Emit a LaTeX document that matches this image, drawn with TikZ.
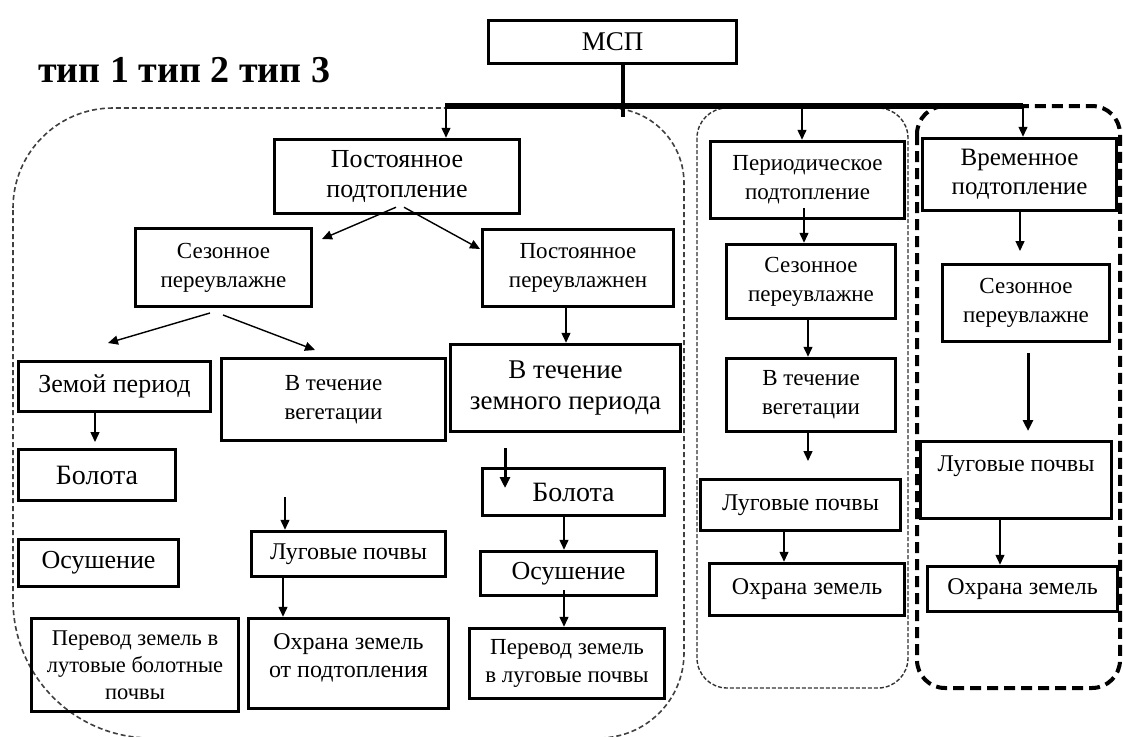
\documentclass[tikz,border=0pt]{standalone}
\usepackage{fontspec}
\setmainfont{Liberation Serif}
\usetikzlibrary{arrows.meta,calc}
\begin{document}
\begin{tikzpicture}[x=1pt,y=-1pt,
  box/.style={draw, line width=3.5pt, inner sep=0pt, align=center},
  txt/.style={inner sep=0pt, align=center},
  fA/.style={font=\fontsize{26}{30}\selectfont},
  fB/.style={font=\fontsize{23}{29}\selectfont},
  fC/.style={font=\fontsize{24}{28}\selectfont},
  fD/.style={font=\fontsize{22.5}{27}\selectfont},
  arr/.style={line width=1.4pt, -{Triangle[length=10pt,width=9pt]}},
  tarr/.style={line width=3pt, -{Triangle[length=11pt,width=10pt]}},
  gone/.style={line width=1.6pt, dash pattern=on 5pt off 3pt, gray!50!black},
  gtwo/.style={line width=1.4pt, dash pattern=on 4pt off 2pt, gray!40!black},
  gthree/.style={line width=4pt, dash pattern=on 11pt off 6pt},
  bus/.style={line width=5.5pt}
]
\clip (0,0) rectangle (1123,736);
\fill[white] (0,0) rectangle (1123,736);

% groups
\draw[gone] (13,208) arc[start angle=180,end angle=270,radius=100] -- (609,108)
  arc[start angle=270,end angle=360,radius=75] -- (684,653)
  arc[start angle=0,end angle=90,radius=85] -- (151,738)
  arc[start angle=90,end angle=180,radius=138] -- cycle;
\draw[gtwo, rounded corners=30pt] (697,108) rectangle (908,688);
\draw[gthree, rounded corners=28pt] (917,106) rectangle (1120,688);

% title
\node[anchor=base west, inner sep=0pt, font=\fontsize{38}{42}\selectfont\bfseries] (title) at (38,82) {тип 1 тип 2 тип 3};

% boxes
\node[box, font=\fontsize{27}{30}\selectfont, minimum width=248pt, minimum height=43pt] (msp) at (612.5,42) {МСП};
\node[box, fA, minimum width=245pt, minimum height=74pt] (post) at (397,176.5) {Постоянное\\подтопление};
\node[box, fB, minimum width=176pt, minimum height=78pt] (sez1) at (223.5,267.5) {Сезонное\\переувлажне};
\node[box, fB, minimum width=191pt, minimum height=77pt] (postper) at (578,268) {Постоянное\\переувлажнен};
\node[box, fA, minimum width=192pt, minimum height=50pt] (zem) at (114.5,386.5) {Земой период};
\node[box, fB, minimum width=224pt, minimum height=82pt] (veg1) at (333.5,399.5) {В течение\\вегетации};
\node[box, font=\fontsize{27}{31}\selectfont, minimum width=230pt, minimum height=87pt] (zemper) at (565.5,388) {В течение\\земного периода};
\node[box, font=\fontsize{28}{30}\selectfont, minimum width=157pt, minimum height=51pt] (bol1) at (97,475) {Болота};
\node[box, fA, minimum width=160pt, minimum height=47pt] (osu1) at (98.5,563) {Осушение};
\node[box, fC, minimum width=194pt, minimum height=45pt] (lug1) at (348.5,554) {Луговые почвы};
\node[box, fD, minimum width=207pt, minimum height=93pt] (perev1) at (135,665) {Перевод земель в\\лутовые болотные\\почвы};
\node[box, minimum width=200pt, minimum height=90pt] (ohr1) at (348.5,663.5) {};
\node[txt, fC] (ohr1t) at (348.5,658) {Охрана земель\\от подтопления};
\node[box, font=\fontsize{28}{30}\selectfont, minimum width=182pt, minimum height=47pt] (bol2) at (573.5,492) {Болота};
\node[box, fA, minimum width=176pt, minimum height=44pt] (osu2) at (568.5,573.5) {Осушение};
\node[box, font=\fontsize{23}{28}\selectfont, minimum width=195pt, minimum height=70pt] (perev2) at (567,663.5) {Перевод земель\\в луговые почвы};
\node[box, fB, minimum width=194pt, minimum height=77pt] (per) at (807.5,180) {Периодическое\\подтопление};
\node[box, fB, minimum width=169pt, minimum height=74pt] (sez2) at (811,281.5) {Сезонное\\переувлажне};
\node[box, fB, minimum width=169pt, minimum height=73pt] (veg2) at (811,395) {В течение\\вегетации};
\node[box, fC, minimum width=200pt, minimum height=51pt] (lug2) at (800.5,505) {Луговые почвы};
\node[box, fC, minimum width=195pt, minimum height=52pt] (ohr2) at (807,589.5) {Охрана земель};
\node[box, font=\fontsize{25}{29}\selectfont, minimum width=194pt, minimum height=72pt] (vrem) at (1019.5,174.5) {Временное\\подтопление};
\node[box, fB, minimum width=167pt, minimum height=77pt] (sez3) at (1026,303) {Сезонное\\переувлажне};
\node[box, minimum width=191pt, minimum height=77pt] (lug3) at (1016,480) {};
\node[txt, fC] (lug3t) at (1016,466) {Луговые почвы};
\node[box, fC, minimum width=190pt, minimum height=45pt] (ohr3) at (1022.5,589) {Охрана земель};

% x guides
\coordinate (xa) at (623,0);
\coordinate (xb) at (446,0);
\coordinate (xc) at (95,0);
\coordinate (xd) at (566,0);
\coordinate (xe) at (285,0);
\coordinate (xf) at (283,0);
\coordinate (xg) at (564,0);
\coordinate (xh) at (804,0);
\coordinate (xi) at (808,0);
\coordinate (xj) at (784,0);
\coordinate (xk) at (1020,0);
\coordinate (xl) at (1000,0);

% bus
\coordinate (busl) at (445,106);
\coordinate (busb) at (446,106);
\coordinate (busm) at (802,106);
\coordinate (busr) at (1023,106);
\coordinate (mspb) at (623,117);
\draw[line width=4pt] (xa |- msp.south) -- (mspb);
\draw[bus] (busl) -- (busr);
\draw[arr] (busb) -- (busb |- post.north);
\draw[arr] (busm) -- (busm |- per.north);
\draw[arr] (busr) -- (busr |- vrem.north);

% free ends
\coordinate (e1) at (322,239);
\coordinate (e2) at (480,249);
\coordinate (s1a) at (210,313);
\coordinate (e3) at (108,343);
\coordinate (s1b) at (223,315);
\coordinate (e4) at (315,350);
\coordinate (e5) at (95,442);
\coordinate (v1) at (285,497);
\coordinate (t1) at (505,448);
\coordinate (t2) at (505,488);
\coordinate (o2) at (564,590);
\coordinate (p2) at (804,208);
\coordinate (e6) at (808,461);
\coordinate (e7) at (1020,251);
\coordinate (t3) at (1028,353);
\coordinate (t4) at (1028,431);

% connectors
\draw[arr] ($(post.south)+(-1,-8)$) -- (e1);
\draw[arr] ($(post.south)+(7,-8)$) -- (e2);
\draw[arr] (s1a) -- (e3);
\draw[arr] (s1b) -- (e4);
\draw[arr] (xc |- zem.south) -- (e5);
\draw[arr] (xd |- postper.south) -- (xd |- zemper.north);
\draw[arr] (v1) -- (xe |- lug1.north);
\draw[arr] (xf |- lug1.south) -- (xf |- ohr1.north);
\draw[tarr] (t1) -- (t2);
\draw[arr] (xg |- bol2.south) -- (xg |- osu2.north);
\draw[arr] (o2) -- (xg |- perev2.north);
\draw[arr] (p2) -- (xh |- sez2.north);
\draw[arr] (xi |- sez2.south) -- (xi |- veg2.north);
\draw[arr] (xi |- veg2.south) -- (e6);
\draw[arr] (xj |- lug2.south) -- (xj |- ohr2.north);
\draw[arr] (xk |- vrem.south) -- (e7);
\draw[tarr] (t3) -- (t4);
\draw[arr] (xl |- lug3.south) -- (xl |- ohr3.north);
\end{tikzpicture}
\end{document}
